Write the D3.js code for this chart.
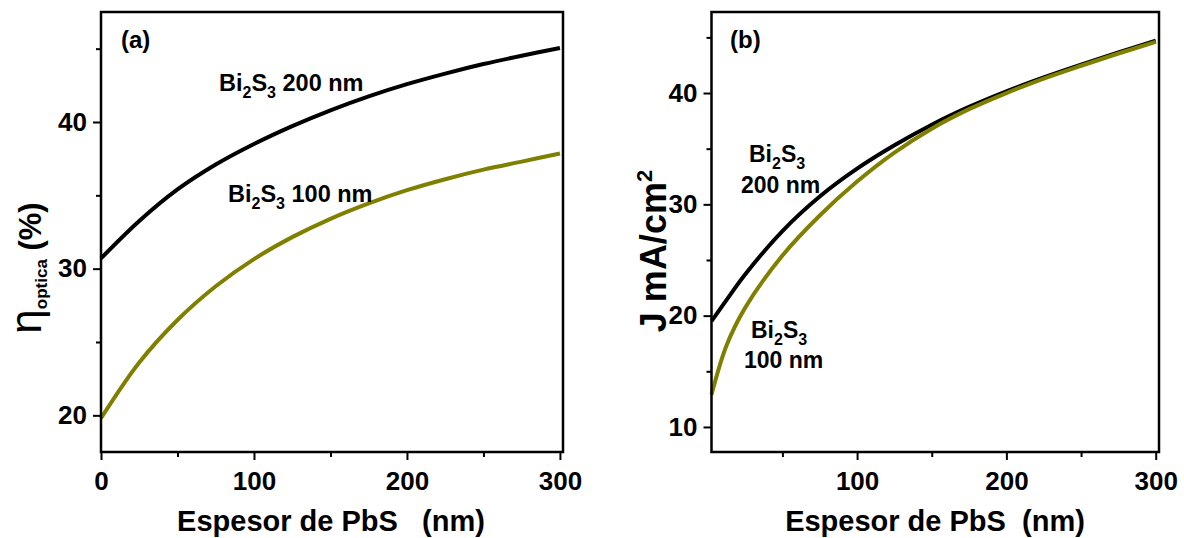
<!DOCTYPE html>
<html>
<head>
<meta charset="utf-8">
<script src="https://cdn.jsdelivr.net/npm/d3@7"></script>
<style>
  html, body { margin: 0; padding: 0; background: #fff; }
  svg text { font-family: "Liberation Sans", Arial, sans-serif; font-weight: bold; fill: #000; }
</style>
</head>
<body>
<svg id="chart" width="1184" height="538"></svg>
<script>
// ---------- data ----------
const thicknessA = [0, 25, 50, 75, 100, 125, 150, 175, 200, 225, 250, 275, 300];
const etaBi200 = [30.7, 33.25, 35.4, 37.1, 38.5, 39.72, 40.8, 41.75, 42.58, 43.3, 43.95, 44.52, 45.04];
const etaBi100 = [19.8, 23.6, 26.5, 28.8, 30.65, 32.15, 33.4, 34.45, 35.35, 36.1, 36.75, 37.3, 37.85];

const thicknessB = [2.5, 12.5, 25, 50, 75, 100, 125, 150, 175, 200, 225, 250, 275, 300];
const jBi200 = [19.5, 21.4, 23.7, 27.6, 30.7, 33.2, 35.3, 37.15, 38.75, 40.15, 41.4, 42.55, 43.65, 44.7];
const jBi100 = [12.9, 17.3, 20.7, 25.4, 29.0, 32.05, 34.65, 36.8, 38.55, 40.0, 41.3, 42.45, 43.55, 44.6];

const xTicksA = [0, 100, 200, 300];
const xMinorA = [50, 150, 250];
const yTicksA = [20, 30, 40];
const yMinorA = [25, 35, 45];
const xTicksB = [100, 200, 300];
const xMinorB = [50, 150, 250];
const yTicksB = [10, 20, 30, 40];
const yMinorB = [15, 25, 35, 45];

const colBlack = "#000000";
const colOlive = "#808000";

const svg = d3.select("#chart");

function panel(cfg) {
  const g = svg.append("g");
  const x = d3.scaleLinear().domain(cfg.xDomain).range([cfg.left, cfg.right]);
  const y = d3.scaleLinear().domain(cfg.yDomain).range([cfg.bottom, cfg.top]);

  // curves
  const line = d3.line().x(d => x(d[0])).y(d => y(d[1])).curve(d3.curveCatmullRom.alpha(0.5));
  cfg.series.forEach(s => {
    g.append("path")
      .datum(cfg.xs.map((v, i) => [v, s.values[i]]))
      .attr("d", line)
      .attr("fill", "none")
      .attr("stroke", s.color)
      .attr("stroke-width", 4)
      .attr("stroke-linecap", "butt");
  });

  // axes
  const xAxis = d3.axisBottom(x).tickValues(cfg.xTicks).tickSize(8).tickPadding(12).tickFormat(d3.format("d"));
  const xMinor = d3.axisBottom(x).tickValues(cfg.xMinor).tickSize(5).tickFormat("");
  const yAxis = d3.axisLeft(y).tickValues(cfg.yTicks).tickSize(8).tickPadding(6).tickFormat(d3.format("d"));
  const yMinor = d3.axisLeft(y).tickValues(cfg.yMinor).tickSize(5).tickFormat("");

  [[xAxis, "x"], [xMinor, "x"], [yAxis, "y"], [yMinor, "y"]].forEach(([ax, t]) => {
    const a = g.append("g")
      .attr("transform", t === "x" ? `translate(0,${cfg.bottom})` : `translate(${cfg.left},0)`)
      .call(ax);
    a.select(".domain").remove();
    a.selectAll(".tick line").attr("stroke", "#000").attr("stroke-width", 2);
    a.selectAll(".tick text")
      .style("font-family", "'Liberation Sans', Arial, sans-serif")
      .style("font-weight", "bold")
      .style("font-size", "26px")
      .attr("fill", "#000");
  });

  // frame
  g.append("rect")
    .attr("x", cfg.left).attr("y", cfg.top)
    .attr("width", cfg.right - cfg.left).attr("height", cfg.bottom - cfg.top)
    .attr("fill", "none").attr("stroke", "#000").attr("stroke-width", 2.5);

  // panel letter
  g.append("text").attr("x", cfg.letterX).attr("y", 48).style("font-size", "24px").text(cfg.letter);

  // x title
  g.append("text")
    .attr("x", cfg.xTitleX).attr("y", 531)
    .attr("text-anchor", "middle")
    .style("font-size", "29px")
    .style("white-space", "pre")
    .attr("xml:space", "preserve")
    .text(cfg.xTitle);

  return {g, x, y};
}

function bi2s3(g, x, y, suffix, size) {
  const t = g.append("text").attr("x", x).attr("y", y).style("font-size", size + "px").attr("xml:space", "preserve").style("white-space", "pre");
  t.append("tspan").text("Bi");
  t.append("tspan").attr("dy", 7).style("font-size", "16px").text("2");
  t.append("tspan").attr("dy", -7).text("S");
  t.append("tspan").attr("dy", 7).style("font-size", "16px").text("3");
  if (suffix) t.append("tspan").attr("dy", -7).text(suffix);
  return t;
}

// ---------- panel (a) ----------
const A = panel({
  left: 101, right: 563, top: 12, bottom: 452,
  xDomain: [0, 302], yDomain: [17.5, 47.5],
  xs: thicknessA,
  series: [{values: etaBi200, color: colBlack}, {values: etaBi100, color: colOlive}],
  xTicks: xTicksA, xMinor: xMinorA, yTicks: yTicksA, yMinor: yMinorA,
  letter: "(a)", letterX: 121,
  xTitle: "Espesor de PbS   (nm)", xTitleX: 331
});
bi2s3(A.g, 219, 91, " 200 nm", 23.5);
bi2s3(A.g, 228, 202, " 100 nm", 23.5);

// y title (a)
{
  const t = A.g.append("text")
    .attr("transform", "translate(41,268) rotate(-90)")
    .attr("text-anchor", "middle")
    .style("font-size", "31px")
    .attr("xml:space", "preserve").style("white-space", "pre");
  t.append("tspan").style("font-size", "44px").style("font-weight", "normal").text("η");
  t.append("tspan").attr("dy", 6).style("font-size", "17px").text("optica");
  t.append("tspan").attr("dy", -6).text(" (%)");
}

// ---------- panel (b) ----------
const B = panel({
  left: 711.5, right: 1159, top: 12, bottom: 452,
  xDomain: [2.5, 302.2], yDomain: [7.75, 47.28],
  xs: thicknessB,
  series: [{values: jBi200, color: colBlack}, {values: jBi100, color: colOlive}],
  xTicks: xTicksB, xMinor: xMinorB, yTicks: yTicksB, yMinor: yMinorB,
  letter: "(b)", letterX: 730,
  xTitle: "Espesor de PbS  (nm)", xTitleX: 935
});
bi2s3(B.g, 749, 162, null, 23);
B.g.append("text").attr("x", 741).attr("y", 193).style("font-size", "23px").text("200 nm");
bi2s3(B.g, 751, 338, null, 23);
B.g.append("text").attr("x", 744).attr("y", 368).style("font-size", "23px").text("100 nm");

// y title (b)
{
  const t = B.g.append("text")
    .attr("transform", "translate(666,251) rotate(-90)")
    .attr("text-anchor", "middle")
    .style("font-size", "36px");
  t.append("tspan").text("J mA/cm");
  t.append("tspan").attr("dy", -14).style("font-size", "22px").text("2");
}
</script>
</body>
</html>
